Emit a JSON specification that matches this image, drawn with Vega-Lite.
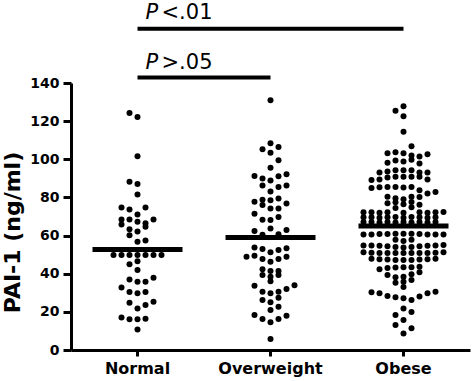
{
  "$schema": "https://vega.github.io/schema/vega-lite/v6.json",
  "width": 399,
  "height": 267,
  "autosize": {"type": "none"},
  "padding": {"left": 71, "top": 83, "right": 4, "bottom": 31},
  "background": "white",
  "config": {
    "view": {"stroke": null},
    "font": "DejaVu Sans",
    "axisX": {
      "title": null, "labelAngle": 0,
      "labelFont": "DejaVu Sans", "labelFontWeight": "bold", "labelFontSize": 16,
      "labelColor": "black", "labelPadding": 4,
      "tickColor": "black", "tickSize": 6, "tickWidth": 3,
      "domainColor": "black", "domainWidth": 3
    },
    "axisY": {
      "grid": false, "labelOverlap": false,
      "labelFont": "DejaVu Sans", "labelFontWeight": "bold", "labelFontSize": 14,
      "labelColor": "black", "labelPadding": 4,
      "tickColor": "black", "tickSize": 8, "tickWidth": 3,
      "domainColor": "black", "domainWidth": 3,
      "titleFont": "DejaVu Sans", "titleFontWeight": "bold", "titleFontSize": 22,
      "titleColor": "black", "titlePadding": 5, "titleY": 149
    }
  },
  "datasets": {
    "pts": [
      {"g":"Normal","v":124.3,"s":-1},{"g":"Normal","v":122.2,"s":0},{"g":"Normal","v":101.6,"s":0},
      {"g":"Normal","v":88.2,"s":-1},{"g":"Normal","v":87.0,"s":0},{"g":"Normal","v":81.5,"s":0},
      {"g":"Normal","v":74.7,"s":-2},{"g":"Normal","v":73.7,"s":-1},{"g":"Normal","v":74.7,"s":1},
      {"g":"Normal","v":71.1,"s":0},{"g":"Normal","v":68.4,"s":-2},{"g":"Normal","v":68.4,"s":-1},
      {"g":"Normal","v":68.4,"s":2},{"g":"Normal","v":67.2,"s":0},{"g":"Normal","v":66.4,"s":1},
      {"g":"Normal","v":65.8,"s":-2},{"g":"Normal","v":64.6,"s":1},{"g":"Normal","v":63.3,"s":-1},
      {"g":"Normal","v":62.1,"s":0},{"g":"Normal","v":60.2,"s":-1},{"g":"Normal","v":56.7,"s":0},
      {"g":"Normal","v":57.4,"s":1},
      {"g":"Normal","v":49.8,"s":-3},{"g":"Normal","v":49.8,"s":-2},{"g":"Normal","v":49.8,"s":-1},
      {"g":"Normal","v":49.8,"s":0},{"g":"Normal","v":49.8,"s":1},{"g":"Normal","v":49.8,"s":2},
      {"g":"Normal","v":49.8,"s":3},
      {"g":"Normal","v":46.6,"s":0},{"g":"Normal","v":44.9,"s":-1},{"g":"Normal","v":41.9,"s":0},
      {"g":"Normal","v":37.0,"s":-1},{"g":"Normal","v":35.8,"s":0},{"g":"Normal","v":35.8,"s":1},
      {"g":"Normal","v":37.9,"s":2},{"g":"Normal","v":32.8,"s":-2},{"g":"Normal","v":30.4,"s":-1},
      {"g":"Normal","v":29.7,"s":0},{"g":"Normal","v":30.4,"s":1},{"g":"Normal","v":24.8,"s":-1},
      {"g":"Normal","v":21.8,"s":0},{"g":"Normal","v":23.6,"s":1},{"g":"Normal","v":25.3,"s":2},
      {"g":"Normal","v":17.1,"s":-2},{"g":"Normal","v":16.1,"s":-1},{"g":"Normal","v":16.1,"s":0},
      {"g":"Normal","v":16.4,"s":1},{"g":"Normal","v":10.8,"s":0},

      {"g":"Overweight","v":131.0,"s":0},{"g":"Overweight","v":108.4,"s":0},{"g":"Overweight","v":105.2,"s":-1},
      {"g":"Overweight","v":106.5,"s":1},{"g":"Overweight","v":103.4,"s":0},{"g":"Overweight","v":99.5,"s":1},
      {"g":"Overweight","v":95.6,"s":0},{"g":"Overweight","v":91.2,"s":-2},{"g":"Overweight","v":89.9,"s":-1},
      {"g":"Overweight","v":88.9,"s":0},{"g":"Overweight","v":91.1,"s":1},{"g":"Overweight","v":92.2,"s":2},
      {"g":"Overweight","v":86.2,"s":-1},{"g":"Overweight","v":85.5,"s":1},{"g":"Overweight","v":86.2,"s":2},
      {"g":"Overweight","v":83.1,"s":0},{"g":"Overweight","v":77.7,"s":-2},{"g":"Overweight","v":78.8,"s":-1},
      {"g":"Overweight","v":78.5,"s":0},{"g":"Overweight","v":79.4,"s":1},{"g":"Overweight","v":76.8,"s":2},
      {"g":"Overweight","v":76.0,"s":-1},{"g":"Overweight","v":74.2,"s":0},{"g":"Overweight","v":74.2,"s":1},
      {"g":"Overweight","v":71.4,"s":-2},{"g":"Overweight","v":68.3,"s":-1},{"g":"Overweight","v":68.1,"s":0},
      {"g":"Overweight","v":69.8,"s":1},{"g":"Overweight","v":63.7,"s":0},{"g":"Overweight","v":62.4,"s":-2},
      {"g":"Overweight","v":60.4,"s":-1},{"g":"Overweight","v":60.7,"s":1},{"g":"Overweight","v":62.9,"s":2},
      {"g":"Overweight","v":53.8,"s":-2},{"g":"Overweight","v":52.9,"s":-1},{"g":"Overweight","v":51.2,"s":0},
      {"g":"Overweight","v":52.4,"s":1},{"g":"Overweight","v":53.3,"s":2},{"g":"Overweight","v":48.9,"s":-3},
      {"g":"Overweight","v":49.4,"s":-2},{"g":"Overweight","v":47.7,"s":-1},{"g":"Overweight","v":46.3,"s":0},
      {"g":"Overweight","v":47.7,"s":1},{"g":"Overweight","v":48.9,"s":2},{"g":"Overweight","v":42.4,"s":-1},
      {"g":"Overweight","v":41.4,"s":0},{"g":"Overweight","v":41.4,"s":1},{"g":"Overweight","v":39.3,"s":-1},
      {"g":"Overweight","v":38.4,"s":0},{"g":"Overweight","v":39.3,"s":1},{"g":"Overweight","v":36.1,"s":0},
      {"g":"Overweight","v":33.7,"s":-2},{"g":"Overweight","v":30.6,"s":-1},{"g":"Overweight","v":29.7,"s":0},
      {"g":"Overweight","v":30.6,"s":1},{"g":"Overweight","v":32.0,"s":2},{"g":"Overweight","v":34.0,"s":3},
      {"g":"Overweight","v":26.2,"s":-1},{"g":"Overweight","v":25.0,"s":0},{"g":"Overweight","v":27.4,"s":1},
      {"g":"Overweight","v":21.0,"s":0},{"g":"Overweight","v":22.7,"s":1},{"g":"Overweight","v":18.3,"s":-2},
      {"g":"Overweight","v":16.2,"s":-1},{"g":"Overweight","v":14.5,"s":0},{"g":"Overweight","v":16.2,"s":1},
      {"g":"Overweight","v":18.0,"s":2},{"g":"Overweight","v":5.8,"s":0},

      {"g":"Obese","v":127.8,"s":0},{"g":"Obese","v":125.4,"s":-1},{"g":"Obese","v":122.6,"s":0},
      {"g":"Obese","v":114.4,"s":0},{"g":"Obese","v":106.9,"s":1},
      {"g":"Obese","v":103.2,"s":-2},{"g":"Obese","v":103.7,"s":-1},{"g":"Obese","v":103.2,"s":0},
      {"g":"Obese","v":102.0,"s":1},{"g":"Obese","v":101.4,"s":2},{"g":"Obese","v":102.7,"s":3},
      {"g":"Obese","v":98.2,"s":-2},{"g":"Obese","v":99.3,"s":-1},{"g":"Obese","v":98.8,"s":0},
      {"g":"Obese","v":99.8,"s":1},{"g":"Obese","v":97.8,"s":2},
      {"g":"Obese","v":93.1,"s":-3},{"g":"Obese","v":93.6,"s":-2},{"g":"Obese","v":94.3,"s":-1},
      {"g":"Obese","v":94.3,"s":0},{"g":"Obese","v":94.3,"s":1},{"g":"Obese","v":93.1,"s":2},
      {"g":"Obese","v":93.1,"s":3},
      {"g":"Obese","v":89.2,"s":-4},{"g":"Obese","v":89.4,"s":-3},{"g":"Obese","v":90.4,"s":-2},
      {"g":"Obese","v":90.8,"s":-1},{"g":"Obese","v":90.8,"s":0},{"g":"Obese","v":90.8,"s":1},
      {"g":"Obese","v":90.8,"s":2},{"g":"Obese","v":89.4,"s":3},
      {"g":"Obese","v":85.0,"s":-4},{"g":"Obese","v":85.4,"s":-3},{"g":"Obese","v":85.5,"s":-2},
      {"g":"Obese","v":85.5,"s":-1},{"g":"Obese","v":85.2,"s":0},{"g":"Obese","v":85.5,"s":1},
      {"g":"Obese","v":83.8,"s":2},{"g":"Obese","v":82.1,"s":3},{"g":"Obese","v":82.9,"s":4},
      {"g":"Obese","v":80.3,"s":-2},{"g":"Obese","v":79.6,"s":-1},{"g":"Obese","v":79.1,"s":0},
      {"g":"Obese","v":80.3,"s":1},{"g":"Obese","v":80.2,"s":2},
      {"g":"Obese","v":77.0,"s":-2},{"g":"Obese","v":77.5,"s":-1},{"g":"Obese","v":76.4,"s":0},
      {"g":"Obese","v":77.6,"s":1},{"g":"Obese","v":76.2,"s":2},
      {"g":"Obese","v":74.4,"s":-1},{"g":"Obese","v":74.8,"s":1},
      {"g":"Obese","v":72.2,"s":-5},{"g":"Obese","v":72.2,"s":-4},{"g":"Obese","v":72.0,"s":-3},
      {"g":"Obese","v":72.2,"s":-2},{"g":"Obese","v":72.0,"s":0},{"g":"Obese","v":72.2,"s":2},
      {"g":"Obese","v":72.0,"s":3},{"g":"Obese","v":72.2,"s":4},{"g":"Obese","v":72.4,"s":5},
      {"g":"Obese","v":69.6,"s":-5},{"g":"Obese","v":69.6,"s":-4},{"g":"Obese","v":69.4,"s":-3},
      {"g":"Obese","v":69.6,"s":-2},{"g":"Obese","v":69.8,"s":-1},{"g":"Obese","v":69.4,"s":0},
      {"g":"Obese","v":69.8,"s":1},{"g":"Obese","v":69.6,"s":2},{"g":"Obese","v":69.4,"s":3},
      {"g":"Obese","v":69.6,"s":4},
      {"g":"Obese","v":67.1,"s":-5},{"g":"Obese","v":67.1,"s":-4},{"g":"Obese","v":66.9,"s":-3},
      {"g":"Obese","v":67.1,"s":-2},{"g":"Obese","v":66.8,"s":-1},{"g":"Obese","v":67.1,"s":0},
      {"g":"Obese","v":66.8,"s":1},{"g":"Obese","v":67.1,"s":2},{"g":"Obese","v":66.9,"s":3},
      {"g":"Obese","v":67.1,"s":4},
      {"g":"Obese","v":60.6,"s":-5},{"g":"Obese","v":60.6,"s":-4},{"g":"Obese","v":60.8,"s":-3},
      {"g":"Obese","v":60.8,"s":-2},{"g":"Obese","v":61.0,"s":-1},{"g":"Obese","v":61.0,"s":0},
      {"g":"Obese","v":61.0,"s":1},{"g":"Obese","v":60.8,"s":2},{"g":"Obese","v":60.6,"s":3},
      {"g":"Obese","v":60.6,"s":4},{"g":"Obese","v":60.6,"s":5},
      {"g":"Obese","v":57.8,"s":-1},{"g":"Obese","v":57.2,"s":0},{"g":"Obese","v":57.8,"s":1},
      {"g":"Obese","v":54.8,"s":-5},{"g":"Obese","v":54.8,"s":-4},{"g":"Obese","v":54.6,"s":-3},
      {"g":"Obese","v":54.4,"s":-2},{"g":"Obese","v":54.0,"s":-1},{"g":"Obese","v":53.8,"s":0},
      {"g":"Obese","v":54.0,"s":1},{"g":"Obese","v":54.4,"s":2},{"g":"Obese","v":54.6,"s":3},
      {"g":"Obese","v":54.8,"s":4},{"g":"Obese","v":55.0,"s":5},
      {"g":"Obese","v":51.2,"s":-5},{"g":"Obese","v":51.0,"s":-4},{"g":"Obese","v":50.8,"s":-3},
      {"g":"Obese","v":50.8,"s":-2},{"g":"Obese","v":50.8,"s":-1},{"g":"Obese","v":50.8,"s":0},
      {"g":"Obese","v":50.8,"s":1},{"g":"Obese","v":50.8,"s":2},{"g":"Obese","v":50.8,"s":3},
      {"g":"Obese","v":51.0,"s":4},{"g":"Obese","v":51.2,"s":5},
      {"g":"Obese","v":47.8,"s":-4},{"g":"Obese","v":47.6,"s":-3},{"g":"Obese","v":47.4,"s":-2},
      {"g":"Obese","v":47.2,"s":-1},{"g":"Obese","v":47.2,"s":0},{"g":"Obese","v":47.2,"s":1},
      {"g":"Obese","v":47.4,"s":2},{"g":"Obese","v":47.6,"s":3},{"g":"Obese","v":47.8,"s":4},
      {"g":"Obese","v":42.3,"s":-3},{"g":"Obese","v":43.0,"s":-2},{"g":"Obese","v":43.2,"s":-1},
      {"g":"Obese","v":43.4,"s":0},{"g":"Obese","v":43.4,"s":1},{"g":"Obese","v":43.6,"s":2},
      {"g":"Obese","v":39.3,"s":-2},{"g":"Obese","v":38.1,"s":-1},{"g":"Obese","v":38.4,"s":0},
      {"g":"Obese","v":39.7,"s":1},{"g":"Obese","v":40.8,"s":2},
      {"g":"Obese","v":35.3,"s":-1},{"g":"Obese","v":35.8,"s":0},{"g":"Obese","v":36.7,"s":1},
      {"g":"Obese","v":33.0,"s":0},
      {"g":"Obese","v":30.3,"s":-4},{"g":"Obese","v":29.7,"s":-3},{"g":"Obese","v":28.3,"s":-2},
      {"g":"Obese","v":27.6,"s":-1},{"g":"Obese","v":27.1,"s":0},{"g":"Obese","v":26.2,"s":1},
      {"g":"Obese","v":28.0,"s":2},{"g":"Obese","v":29.7,"s":3},{"g":"Obese","v":30.6,"s":4},
      {"g":"Obese","v":21.8,"s":0},{"g":"Obese","v":19.9,"s":1},{"g":"Obese","v":18.3,"s":-1},
      {"g":"Obese","v":15.7,"s":0},{"g":"Obese","v":13.1,"s":-1},{"g":"Obese","v":11.4,"s":1},
      {"g":"Obese","v":8.7,"s":0}
    ],
    "med": [
      {"g":"Normal","v":52.7},
      {"g":"Overweight","v":59.0},
      {"g":"Obese","v":65.0}
    ],
    "sig": [
      {"from":"Normal","to":"Obese","v":168.5,"tv":173.8,"p":"P","rest":"<.01"},
      {"from":"Normal","to":"Overweight","v":142.9,"tv":147.6,"p":"P","rest":">.05"}
    ]
  },
  "layer": [
    {
      "data": {"name": "pts"},
      "mark": {"type": "circle", "size": 36, "opacity": 1, "color": "black"},
      "encoding": {
        "x": {
          "field": "g", "type": "nominal",
          "scale": {"domain": ["Normal", "Overweight", "Obese"], "paddingInner": 0, "paddingOuter": 0},
          "axis": {"title": null}
        },
        "xOffset": {
          "field": "s", "type": "quantitative",
          "scale": {"domain": [-5, 5], "range": [26.5, 106.5]}
        },
        "y": {
          "field": "v", "type": "quantitative",
          "scale": {"domain": [0, 140], "nice": false},
          "axis": {"title": "PAI-1 (ng/ml)", "values": [0, 20, 40, 60, 80, 100, 120, 140]}
        }
      }
    },
    {
      "data": {"name": "med"},
      "mark": {"type": "tick", "orient": "horizontal", "size": 90, "thickness": 5, "color": "black", "opacity": 1},
      "encoding": {
        "x": {"field": "g", "type": "nominal", "scale": {"domain": ["Normal", "Overweight", "Obese"]}, "axis": {"title": null}},
        "y": {"field": "v", "type": "quantitative", "axis": {"title": "PAI-1 (ng/ml)", "values": [0, 20, 40, 60, 80, 100, 120, 140]}}
      }
    },
    {
      "data": {"name": "sig"},
      "mark": {"type": "rule", "strokeWidth": 4, "color": "black"},
      "encoding": {
        "x": {"field": "from", "type": "nominal", "scale": {"domain": ["Normal", "Overweight", "Obese"]}, "axis": {"title": null}},
        "x2": {"field": "to"},
        "y": {"field": "v", "type": "quantitative", "axis": {"title": "PAI-1 (ng/ml)", "values": [0, 20, 40, 60, 80, 100, 120, 140]}}
      }
    },
    {
      "data": {"name": "sig"},
      "mark": {"type": "text", "align": "left", "baseline": "alphabetic", "dx": 8, "fontSize": 21, "fontStyle": "italic", "font": "DejaVu Sans", "color": "black"},
      "encoding": {
        "x": {"field": "from", "type": "nominal", "scale": {"domain": ["Normal", "Overweight", "Obese"]}, "axis": {"title": null}},
        "y": {"field": "tv", "type": "quantitative", "axis": {"title": "PAI-1 (ng/ml)", "values": [0, 20, 40, 60, 80, 100, 120, 140]}},
        "text": {"field": "p"}
      }
    },
    {
      "data": {"name": "sig"},
      "mark": {"type": "text", "align": "left", "baseline": "alphabetic", "dx": 24, "fontSize": 21, "font": "DejaVu Sans", "color": "black"},
      "encoding": {
        "x": {"field": "from", "type": "nominal", "scale": {"domain": ["Normal", "Overweight", "Obese"]}, "axis": {"title": null}},
        "y": {"field": "tv", "type": "quantitative", "axis": {"title": "PAI-1 (ng/ml)", "values": [0, 20, 40, 60, 80, 100, 120, 140]}},
        "text": {"field": "rest"}
      }
    }
  ]
}
